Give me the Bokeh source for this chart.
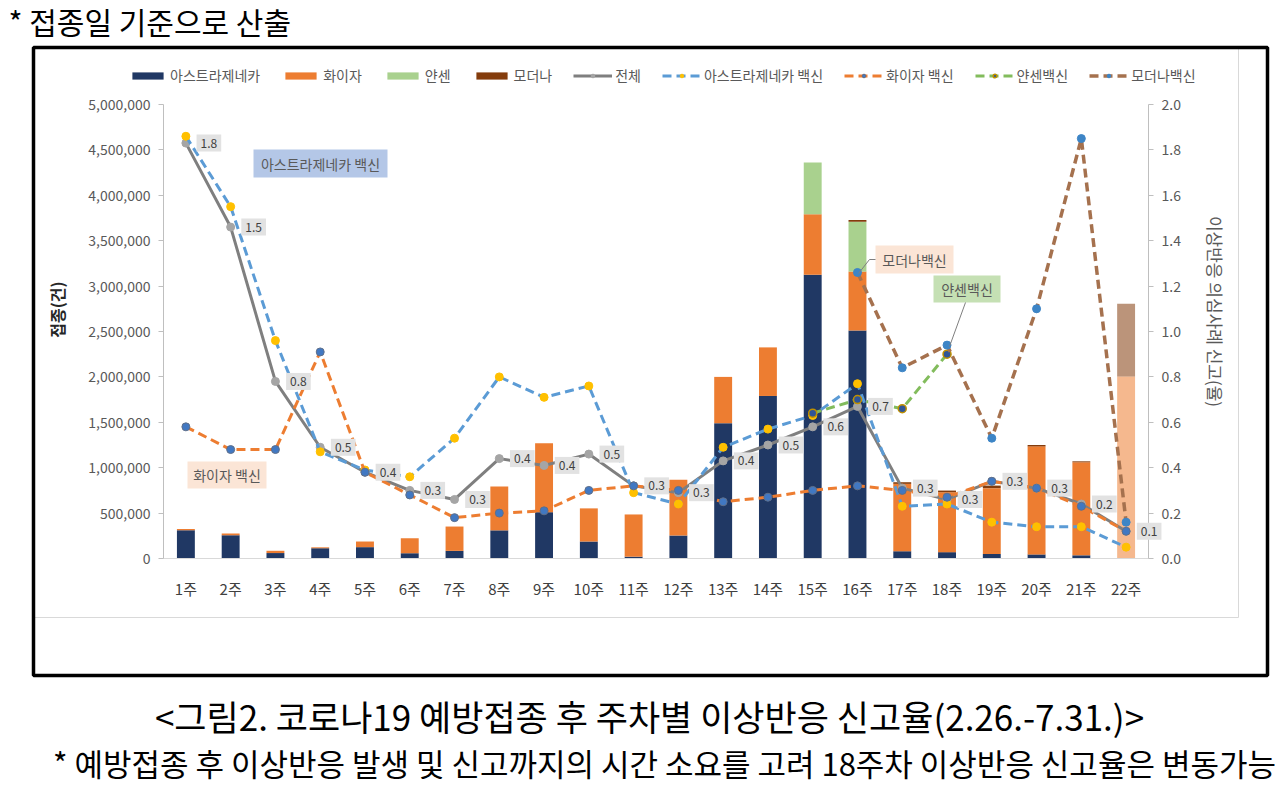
import math
from bokeh.plotting import figure
from bokeh.models import (ColumnDataSource, Range1d, LinearAxis, NumeralTickFormatter,
                          FixedTicker, Legend, LegendItem, Label, BoxAnnotation)
from bokeh.embed import file_html
from bokeh.resources import INLINE

# ---------------- data ----------------
weeks = [f"{i}주" for i in range(1, 23)]
week_pos = list(range(1, 23))

az_doses = [310000, 255000, 60000, 113000, 125000, 58000, 84000, 310000, 510000, 187000, 20000,
            253000, 1490000, 1790000, 3125000, 2510000, 80000, 70000, 50000, 45000, 35000, 5000]
pfizer_doses = [15000, 20000, 25000, 10000, 62000, 165000, 268000, 483000, 760000, 365000, 465000,
                614000, 510000, 535000, 665000, 650000, 742000, 660000, 725000, 1190000, 1025000, 2000000]
janssen_doses = [0] * 14 + [570000, 550000] + [0] * 6
moderna_doses = [0] * 15 + [19000, 18000, 18000, 28000, 15000, 10000, 800000]
bar_alpha = [1.0] * 21 + [0.55]

NaN = float("nan")
total_rate = [1.83, 1.46, 0.78, 0.49, 0.38, 0.30, 0.26, 0.44, 0.41, 0.46, 0.32,
              0.29, 0.43, 0.50, 0.58, 0.67, 0.31, 0.26, 0.34, 0.31, 0.24, 0.12]
az_rate = [1.86, 1.55, 0.96, 0.47, 0.39, 0.36, 0.53, 0.80, 0.71, 0.76, 0.29,
           0.24, 0.49, 0.57, 0.63, 0.77, 0.23, 0.24, 0.16, 0.14, 0.14, 0.05]
pfizer_rate = [0.58, 0.48, 0.48, 0.91, 0.38, 0.28, 0.18, 0.20, 0.21, 0.30, 0.32,
               0.30, 0.25, 0.27, 0.30, 0.32, 0.30, 0.27, 0.34, 0.31, 0.23, 0.12]
janssen_rate = [NaN] * 14 + [0.64, 0.70, 0.66, 0.90] + [NaN] * 4
moderna_rate = [NaN] * 15 + [1.26, 0.84, 0.94, 0.53, 1.10, 1.85, 0.16]

left_ticks = list(range(0, 5000001, 500000))
right_ticks = [round(i * 0.2, 1) for i in range(11)]
LEFT_MAX, RIGHT_MAX = 5000000, 2.0

FONT = "Noto Sans CJK KR"

# ---------------- geometry (page pixels) ----------------
W, H = 1275, 784                      # canvas drawn from the page's top-left corner
PX0, PX1, PY0, PY1 = 0, W, 0, H
AL, AR, AT, AB = 163, 1148, 104, 558  # plot area (axes) edges on the page
N = len(weeks)
s = (AR - AL) / N                      # px per category


def xd(X):
    return 0.5 + (X - AL) / s


def yd(Y, top):
    return (AB - Y) * top / (AB - AT)


p = figure(width=W, height=H, x_range=Range1d(xd(PX0), xd(PX1)),
           y_range=Range1d(yd(PY1, LEFT_MAX), yd(PY0, LEFT_MAX)),
           x_axis_location=None, y_axis_location=None,
           output_backend="svg", toolbar_location=None,
           min_border=0, background_fill_color="white", border_fill_color="white")
p.outline_line_color = None
p.grid.visible = False
p.extra_y_ranges = {"rate": Range1d(yd(PY1, RIGHT_MAX), yd(PY0, RIGHT_MAX)),
                    "py": Range1d(PY1, PY0)}
p.extra_x_ranges = {"px": Range1d(PX0, PX1)}

# ---------------- axes ----------------
lax = LinearAxis(fixed_location=0.5, bounds=(0, LEFT_MAX), ticker=FixedTicker(ticks=left_ticks),
                 formatter=NumeralTickFormatter(format="0,0"))
rax = LinearAxis(y_range_name="rate", fixed_location=N + 0.5, bounds=(0, RIGHT_MAX),
                 ticker=FixedTicker(ticks=right_ticks), formatter=NumeralTickFormatter(format="0.0"))
bax = LinearAxis(fixed_location=0, bounds=(0.5, N + 0.5), ticker=FixedTicker(ticks=week_pos),
                 major_label_overrides={pos: w for pos, w in zip(week_pos, weeks)})
p.add_layout(lax, "left")
p.add_layout(rax, "right")
p.add_layout(bax, "below")
for ax in [lax, rax]:
    ax.major_label_text_font = FONT
    ax.major_label_text_font_size = "14px"
    ax.major_label_text_color = "#595959"
    ax.axis_line_color = "#BFBFBF"
    ax.major_tick_line_color = "#BFBFBF"
    ax.major_tick_out = 5
    ax.major_tick_in = 0
    ax.minor_tick_line_color = None
    ax.major_label_standoff = 8
bax.major_label_text_font = FONT
bax.major_label_text_font_size = "15px"
bax.major_label_text_color = "#404040"
bax.axis_line_color = "#D9D9D9"
bax.major_tick_line_color = None
bax.minor_tick_line_color = None
bax.major_label_standoff = 13

# ---------------- bars ----------------
src = ColumnDataSource(dict(x=week_pos, az=az_doses, pf=pfizer_doses, ja=janssen_doses,
                            mo=moderna_doses, alpha=bar_alpha, total=total_rate,
                            azr=az_rate, pfr=pfizer_rate, jar=janssen_rate, mor=moderna_rate))
bar_colors = ["#203864", "#ED7D31", "#A9D18E", "#843C0C"]
bars = p.vbar_stack(["az", "pf", "ja", "mo"], x="x", width=0.4, fill_color=bar_colors,
                    fill_alpha="alpha", line_color=None, source=src)

# ---------------- lines ----------------
dash = "9 5"
l_tot = p.line("x", "total", source=src, y_range_name="rate", line_color="#7F7F7F", line_width=3)
s_tot = p.scatter("x", "total", source=src, y_range_name="rate", size=8,
                  fill_color="#A5A5A5", line_color="#A5A5A5")
l_az = p.line("x", "azr", source=src, y_range_name="rate", line_color="#5B9BD5", line_width=3, line_dash=dash)
s_az = p.scatter("x", "azr", source=src, y_range_name="rate", size=8,
                 fill_color="#FFC000", line_color="#FFC000")
l_pf = p.line("x", "pfr", source=src, y_range_name="rate", line_color="#ED7D31", line_width=3, line_dash=dash)
s_pf = p.scatter("x", "pfr", source=src, y_range_name="rate", size=8,
                 fill_color="#4178C2", line_color="#5F6F8A")
l_ja = p.line("x", "jar", source=src, y_range_name="rate", line_color="#82BC5C", line_width=3, line_dash=dash)
s_ja = p.scatter("x", "jar", source=src, y_range_name="rate", size=8,
                 fill_color="#2F5597", line_color="#BF9000", line_width=1.5)
l_mo = p.line("x", "mor", source=src, y_range_name="rate", line_color="#A5714E", line_width=3.5, line_dash=dash)
s_mo = p.scatter("x", "mor", source=src, y_range_name="rate", size=8,
                 fill_color="#3D85C6", line_color="#3D85C6")

# data labels for the total line
for pos, v in zip(week_pos, total_rate):
    p.add_layout(Label(x=pos, y=v, y_range_name="rate", x_offset=23, text=f"{v:.1f}",
                       text_align="center", text_baseline="middle", text_font=FONT,
                       text_font_size="12px", text_color="#404040",
                       background_fill_color="#E2E2E2", padding=4))

# ---------------- callout boxes (page pixel coords) ----------------
boxes = [
    ("아스트라제네카 백신", 253, 387, 149, 177, "#B4C7E7"),
    ("화이자 백신", 187, 266, 461, 488, "#FBE5D6"),
    ("모더나백신", 875, 953, 245, 273, "#FBE5D6"),
    ("얀센백신", 933, 1000, 275, 302, "#C5E0B4"),
]
for txt, l, r, t, b, c in boxes:
    p.add_layout(BoxAnnotation(left=l, right=r, top=t, bottom=b, x_range_name="px", y_range_name="py",
                               fill_color=c, fill_alpha=1, line_color=None, level="underlay"))
    p.add_layout(Label(x=(l + r) / 2, y=(t + b) / 2, x_range_name="px", y_range_name="py", text=txt,
                       text_align="center", text_baseline="middle", text_font=FONT,
                       text_font_size="14px", text_color="#595959"))

p.multi_line(xs=[[858, 869, 875], [965, 949]], ys=[[273, 259, 259], [302, 346]],
             x_range_name="px", y_range_name="py", line_color="#7F7F7F", line_width=1)

# ---------------- legend ----------------
items = [
    LegendItem(label="아스트라제네카", renderers=[bars[0]]),
    LegendItem(label="화이자", renderers=[bars[1]]),
    LegendItem(label="얀센", renderers=[bars[2]]),
    LegendItem(label="모더나", renderers=[bars[3]]),
    LegendItem(label="전체", renderers=[l_tot, s_tot]),
    LegendItem(label="아스트라제네카 백신", renderers=[l_az, s_az]),
    LegendItem(label="화이자 백신", renderers=[l_pf, s_pf]),
    LegendItem(label="얀센백신", renderers=[l_ja, s_ja]),
    LegendItem(label="모더나백신", renderers=[l_mo, s_mo]),
]
legend = Legend(items=items, orientation="horizontal", location=(128 - PX0, PY1 - 85),
                glyph_width=39, glyph_height=9, label_height=16, label_standoff=3, spacing=21,
                padding=0, margin=0, background_fill_alpha=0, border_line_color=None,
                label_text_font=FONT, label_text_font_size="14px", label_text_color="#595959")
p.add_layout(legend, "center")


# ---------------- page texts & frames ----------------
def page_label(x, y, txt, size, color="#000000", align="center", angle=0, style="normal"):
    p.add_layout(Label(x=x, y=y, x_range_name="px", y_range_name="py", text=txt, angle=angle,
                       text_align=align, text_baseline="middle", text_font=FONT,
                       text_font_size=size, text_color=color, text_font_style=style))


page_label(8, 20, "* 접종일 기준으로 산출", "30px", align="left")
page_label(56, 309, "접종(건)", "16px", color="#262626", angle=math.pi / 2, style="bold")
page_label(1215, 311, "이상반응 의심사례 신고(율)", "17px", color="#595959", angle=-math.pi / 2)
page_label(649, 715, "<그림2. 코로나19 예방접종 후 주차별 이상반응 신고율(2.26.-7.31.)>", "35px")
page_label(664, 762, "* 예방접종 후 이상반응 발생 및 신고까지의 시간 소요를 고려 18주차 이상반응 신고율은 변동가능", "31px")

p.add_layout(BoxAnnotation(left=33, right=1238, top=47, bottom=617, x_range_name="px", y_range_name="py",
                           fill_alpha=0, line_color="#D9D9D9", line_alpha=1, line_width=1))
p.add_layout(BoxAnnotation(left=33, right=1267, top=47, bottom=675, x_range_name="px", y_range_name="py",
                           fill_alpha=0, line_color="black", line_alpha=1, line_width=3.5))

open("out.html", "w").write(file_html(p, INLINE))
